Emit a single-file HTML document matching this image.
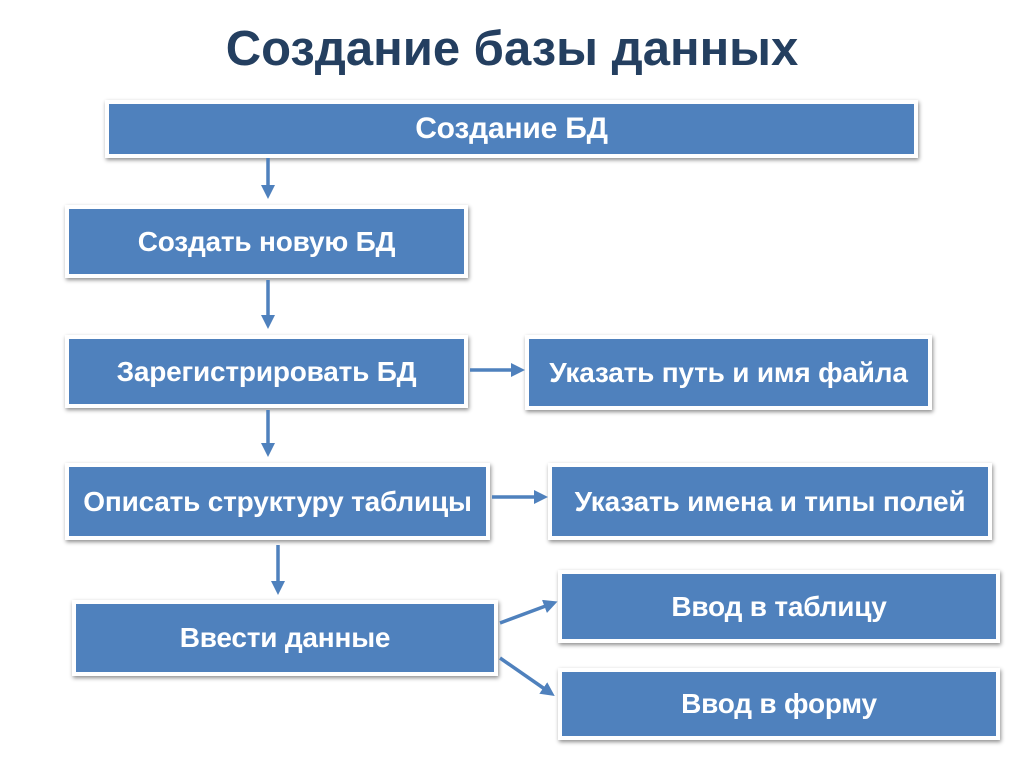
<!DOCTYPE html>
<html><head><meta charset="utf-8"><style>
body{margin:0;width:1024px;height:767px;background:#fff;position:relative;overflow:hidden;font-family:"Liberation Sans","DejaVu Sans",sans-serif}
.t{position:absolute;left:0;width:1024px;top:21px;text-align:center;font-size:49px;font-weight:bold;color:#243f60}
.b{position:absolute;box-sizing:border-box;background:#4f81bd;border:4px solid #fff;box-shadow:1px 2px 4px rgba(0,0,0,.45);color:#fff;font-weight:bold;font-size:28px;display:flex;align-items:center;justify-content:center;white-space:nowrap;letter-spacing:-0.2px}
svg{position:absolute;left:0;top:0}
</style></head><body>
<div class="t">Создание базы данных</div>
<div class="b" style="left:105px;top:100px;width:813px;height:58px;font-size:30px">Создание БД</div>
<div class="b" style="left:65px;top:205px;width:403px;height:73px">Создать новую БД</div>
<div class="b" style="left:65px;top:335px;width:403px;height:73px">Зарегистрировать БД</div>
<div class="b" style="left:65px;top:463px;width:425px;height:77px">Описать структуру таблицы</div>
<div class="b" style="left:72px;top:600px;width:426px;height:76px">Ввести данные</div>
<div class="b" style="left:525px;top:335px;width:407px;height:75px">Указать путь и имя файла</div>
<div class="b" style="left:548px;top:463px;width:444px;height:77px">Указать имена и типы полей</div>
<div class="b" style="left:558px;top:570px;width:442px;height:73px">Ввод в таблицу</div>
<div class="b" style="left:558px;top:668px;width:442px;height:72px">Ввод в форму</div>
<svg width="1024" height="767">
<defs><marker id="a" markerWidth="4" markerHeight="4" refX="2" refY="2" orient="auto"><path d="M0,0L4,2L0,4z" fill="#4f81bd"/></marker></defs>
<g stroke="#4f81bd" stroke-width="3.5" marker-end="url(#a)" fill="none">
<line x1="268" y1="158" x2="268" y2="192"/>
<line x1="268" y1="280" x2="268" y2="322"/>
<line x1="268" y1="410" x2="268" y2="450"/>
<line x1="278" y1="545" x2="278" y2="588"/>
<line x1="470" y1="370" x2="518" y2="370"/>
<line x1="492" y1="497" x2="541" y2="497"/>
<line x1="500" y1="623" x2="551" y2="604"/>
<line x1="500" y1="658" x2="549" y2="692"/>
</g></svg>
</body></html>
